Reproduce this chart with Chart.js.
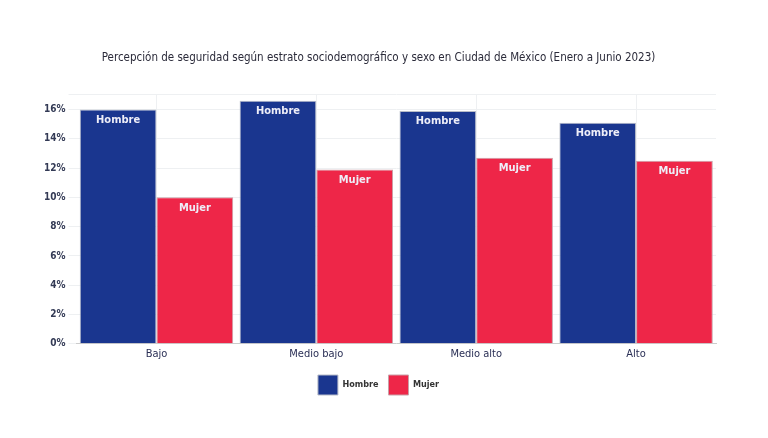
<!DOCTYPE html>
<html>
<head>
<meta charset="utf-8">
<script src="https://cdn.jsdelivr.net/npm/chart.js@4"></script>
<style>
  html,body{margin:0;padding:0;background:#fff;}
  #wrap{width:768px;height:438px;}
</style>
</head>
<body>
<div id="wrap"><canvas id="c" width="768" height="438"></canvas></div>
<script>
const categories = ["Bajo","Medio bajo","Medio alto","Alto"];
const hombre = [16.0,16.6,15.9,15.1];
const mujer = [10.0,11.9,12.7,12.5];
const seriesNames = ["Hombre","Mujer"];

const FONT = "'DejaVu Sans Condensed','Liberation Sans Narrow',sans-serif";

// etiquetas dentro de la barra
const barLabels = {
  id:"barLabels",
  afterDatasetsDraw(ch){
    const c = ch.ctx;
    c.save();
    c.fillStyle = "#eeeef8";
    c.font = "bold 11px "+FONT;
    c.textAlign = "center";
    c.textBaseline = "top";
    ch.data.datasets.forEach((ds,i)=>{
      ch.getDatasetMeta(i).data.forEach(bar=>{
        c.fillText(ds.label, bar.x, bar.y+5);
      });
    });
    c.restore();
  }
};

new Chart(document.getElementById("c"),{
  type:"bar",
  data:{
    labels:categories,
    datasets:[
      {label:seriesNames[0],data:hombre,backgroundColor:"#1a368f",borderColor:"#b8bcc8",borderWidth:1},
      {label:seriesNames[1],data:mujer,backgroundColor:"#ee2648",borderColor:"#c9a0a8",borderWidth:1}
    ]
  },
  options:{
    responsive:false,
    animation:false,
    layout:{padding:{left:41,right:52,top:51,bottom:33}},
    datasets:{bar:{categoryPercentage:0.96,barPercentage:1}},
    plugins:{
      title:{display:true,text:"Percepción de seguridad según estrato sociodemográfico y sexo en Ciudad de México (Enero a Junio 2023)",
        color:"#2b2b3a",font:{family:FONT,size:11.5,weight:"normal"},padding:{top:0,bottom:30}},
      legend:{position:"bottom",labels:{boxWidth:20,boxHeight:20,padding:10,color:"#333",font:{family:FONT,size:9,weight:"bold"}}},
      tooltip:{enabled:false}
    },
    scales:{
      x:{grid:{color:"#eef0f2",offset:false,tickLength:0},border:{color:"#ccc"},
        ticks:{padding:4,color:"#2a2f55",font:{family:FONT,size:11}}},
      y:{min:0,max:17,border:{display:false},grid:{color:"#eef0f2"},
        ticks:{stepSize:2,color:"#333a55",font:{family:FONT,size:10,weight:"bold"},callback:v=>v<=16?v+"%":""}}
    }
  },
  plugins:[barLabels]
});
</script>
</body>
</html>
